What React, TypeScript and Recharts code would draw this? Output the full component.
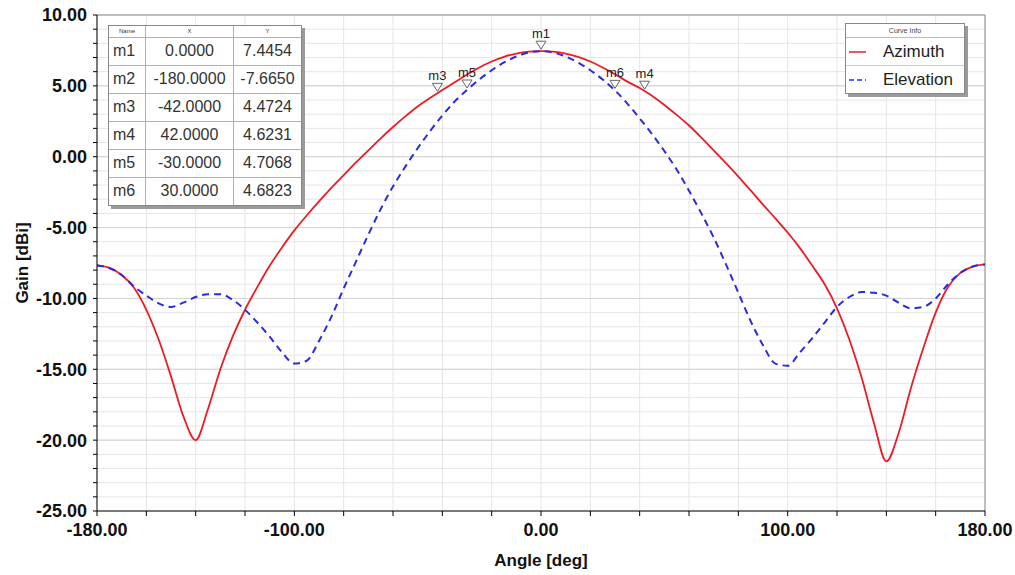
import { ComposedChart, Line, XAxis, YAxis, CartesianGrid, ReferenceLine, ReferenceDot } from 'recharts'

// HFSS-style far-field gain cut
const angles = [
  -180, -175, -170, -165, -160, -155, -150, -145, -140, -135, -130, -125, -120, -115, -110, -105, -100, -95, -90, -85,
  -80, -75, -70, -65, -60, -55, -50, -45, -40, -35, -30, -25, -20, -15, -10, -5, 0, 5, 10, 15,
  20, 25, 30, 35, 40, 45, 50, 55, 60, 65, 70, 75, 80, 85, 90, 95, 100, 105, 110, 115,
  120, 125, 130, 135, 140, 145, 150, 155, 160, 165, 170, 175, 180,
]
const azimuth = [
  -7.67, -7.85, -8.35, -9.25, -10.8, -12.9, -15.5, -18.3, -20.0, -17.8, -15.0, -12.7, -10.8, -9.2, -7.7, -6.4, -5.2, -4.15, -3.15, -2.2,
  -1.3, -0.4, 0.45, 1.3, 2.1, 2.85, 3.55, 4.15, 4.7, 5.25, 5.8, 6.3, 6.72, 7.05, 7.28, 7.41, 7.45, 7.41, 7.28, 7.05,
  6.72, 6.3, 5.82, 5.3, 4.85, 4.3, 3.65, 2.95, 2.2, 1.35, 0.45, -0.45, -1.4, -2.38, -3.38, -4.35, -5.35, -6.45, -7.7, -9.0,
  -10.7, -12.9, -15.6, -18.8, -21.5, -19.5, -16.3, -13.5, -11.0, -9.2, -8.2, -7.75, -7.6,
]
const elevation = [
  -7.67, -7.85, -8.35, -9.15, -9.8, -10.35, -10.6, -10.3, -9.9, -9.7, -9.7, -10.1, -10.8, -11.7, -12.7, -13.8, -14.6, -14.4, -13.0, -11.3,
  -9.3, -7.4, -5.5, -3.7, -2.1, -0.7, 0.6, 1.8, 2.9, 3.9, 4.71, 5.45, 6.1, 6.65, 7.07, 7.35, 7.45, 7.35, 7.07, 6.65,
  6.1, 5.45, 4.68, 3.75, 2.7, 1.6, 0.4, -0.9, -2.4, -4.0, -5.7, -7.6, -9.6, -11.6, -13.3, -14.6, -14.75, -13.8, -12.8, -11.7,
  -10.6, -9.9, -9.55, -9.6, -9.8, -10.3, -10.7, -10.6, -10.0, -9.0, -8.2, -7.75, -7.6,
]

const markerNames = ['m1', 'm2', 'm3', 'm4', 'm5', 'm6']
const markerX = [0, -180, -42, 42, -30, 30]
const markerY = [7.4454, -7.665, 4.4724, 4.6231, 4.7068, 4.6823]
const markerXText = ['0.0000', '-180.0000', '-42.0000', '42.0000', '-30.0000', '30.0000']
const markerYText = ['7.4454', '-7.6650', '4.4724', '4.6231', '4.7068', '4.6823']
const shownMarkers = ['m1', 'm3', 'm4', 'm5', 'm6']

const xTicks = [-180, -160, -140, -120, -100, -80, -60, -40, -20, 0, 20, 40, 60, 80, 100, 120, 140, 160, 180]
const xLabelled = [-180, -100, 0, 100, 180]
const yTicks = [
  -25, -24, -23, -22, -21, -20, -19, -18, -17, -16, -15, -14, -13, -12, -11, -10, -9, -8,
  -7, -6, -5, -4, -3, -2, -1, 0, 1, 2, 3, 4, 5, 6, 7, 8, 9, 10,
]
const yMajor = [-20, -15, -10, -5, 0, 5]

const rows = angles.map((a, i) => ({ angle: a, az: azimuth[i], el: elevation[i] }))

const FONT = '"Liberation Sans", Arial, sans-serif'
const RED = '#ec1c24'
const BLUE = '#2b2be0'

function MarkerShape(name: string) {
  return (props: any) => {
    const { cx, cy } = props
    return (
      <g>
        <polygon points={`${cx - 5},${cy - 10} ${cx + 5},${cy - 10} ${cx},${cy - 2}`} fill="#fff" fillOpacity={0.7} stroke="#666" strokeWidth={1} />
        <text x={cx} y={cy - 13} textAnchor="middle" fontSize={13} fontFamily={FONT} fill="#222">{name}</text>
      </g>
    )
  }
}

function MarkerTable() {
  const cell = { borderRight: '1px solid #b0b0b0', borderBottom: '1px solid #b0b0b0', padding: 0 }
  return (
    <div style={{ position: 'absolute', left: 108, top: 25, boxShadow: '3px 3px 0 #9a9a9a', background: '#fff', border: '1px solid #888', fontFamily: FONT, color: '#333' }}>
      <table style={{ borderCollapse: 'collapse' }}>
        <tbody>
          <tr style={{ height: 11, fontSize: 6 }}>
            <td style={{ ...cell, width: 36, textAlign: 'center' }}>Name</td>
            <td style={{ ...cell, width: 87, textAlign: 'center' }}>X</td>
            <td style={{ ...cell, width: 67, textAlign: 'center', borderRight: 'none' }}>Y</td>
          </tr>
          {markerNames.map((n, i) => (
            <tr key={n} style={{ height: 28, fontSize: 16 }}>
              <td style={{ ...cell, paddingLeft: 4, borderBottom: i === 5 ? 'none' : cell.borderBottom }}>{n}</td>
              <td style={{ ...cell, textAlign: 'center', borderBottom: i === 5 ? 'none' : cell.borderBottom }}>{markerXText[i]}</td>
              <td style={{ ...cell, textAlign: 'center', borderRight: 'none', borderBottom: i === 5 ? 'none' : cell.borderBottom }}>{markerYText[i]}</td>
            </tr>
          ))}
        </tbody>
      </table>
    </div>
  )
}

function CurveInfo() {
  const items = [
    { name: 'Azimuth', color: RED, dash: undefined },
    { name: 'Elevation', color: BLUE, dash: '5 3' },
  ]
  return (
    <div style={{ position: 'absolute', left: 845, top: 23, width: 118, background: '#fff', border: '1px solid #888', boxShadow: '3px 3px 0 #9a9a9a', fontFamily: FONT, color: '#222' }}>
      <div style={{ height: 13, fontSize: 7, textAlign: 'center', lineHeight: '13px', borderBottom: '1px solid #bbb', color: '#444' }}>Curve Info</div>
      {items.map((it, i) => (
        <div key={it.name} style={{ height: 27, display: 'flex', alignItems: 'center', borderBottom: i === 0 ? '1px solid #ccc' : 'none' }}>
          <svg width={37} height={10}>
            <line x1={3} y1={5} x2={20} y2={5} stroke={it.color} strokeWidth={1.5} strokeDasharray={it.dash} />
          </svg>
          <span style={{ fontSize: 17 }}>{it.name}</span>
        </div>
      ))}
    </div>
  )
}

export default function App() {
  return (
    <div style={{ position: 'absolute', left: 0, top: 0, width: 1015, height: 575, background: '#fff' }}>
      <ComposedChart width={1015} height={575} data={rows} margin={{ top: 15, right: 30, bottom: 0, left: 17 }}>
        <CartesianGrid stroke="#e6e6e6" horizontalValues={yTicks} verticalValues={xTicks} />
        {yMajor.map((v) => (
          <ReferenceLine key={v} y={v} stroke="#d3d3d3" />
        ))}
        <ReferenceLine y={10} stroke="#8a8a8a" />
        <ReferenceLine x={180} stroke="#8a8a8a" />
        <XAxis
          dataKey="angle"
          type="number"
          domain={[-180, 180]}
          ticks={xTicks}
          interval={0}
          height={64}
          tickSize={5}
          tickMargin={7}
          stroke="#000"
          tick={{ fill: '#111', fontSize: 18, fontWeight: 'bold', fontFamily: FONT }}
          tickFormatter={(v: number) => (xLabelled.includes(v) ? v.toFixed(2) : '')}
          label={{ value: 'Angle [deg]', position: 'insideBottom', offset: 9, fill: '#111', fontSize: 17, fontWeight: 'bold', fontFamily: FONT }}
        />
        <YAxis
          type="number"
          domain={[-25, 10]}
          ticks={yTicks}
          interval={0}
          width={80}
          tickSize={4}
          tickMargin={6}
          stroke="#000"
          tick={{ fill: '#111', fontSize: 18, fontWeight: 'bold', fontFamily: FONT }}
          tickFormatter={(v: number) => (v % 5 === 0 ? v.toFixed(2) : '')}
          label={{ value: 'Gain [dBi]', angle: -90, position: 'insideLeft', offset: 5, style: { textAnchor: 'middle' }, fill: '#111', fontSize: 17, fontWeight: 'bold', fontFamily: FONT }}
        />
        <Line type="monotone" dataKey="az" stroke={RED} strokeWidth={1.8} dot={false} isAnimationActive={false} />
        <Line type="monotone" dataKey="el" stroke={BLUE} strokeWidth={2} strokeDasharray="7 5" dot={false} isAnimationActive={false} />
        {markerNames.map((n, i) =>
          shownMarkers.includes(n) ? (
            <ReferenceDot key={n} x={markerX[i]} y={markerY[i]} r={4} shape={MarkerShape(n)} />
          ) : null
        )}
      </ComposedChart>
      <MarkerTable />
      <CurveInfo />
    </div>
  )
}
